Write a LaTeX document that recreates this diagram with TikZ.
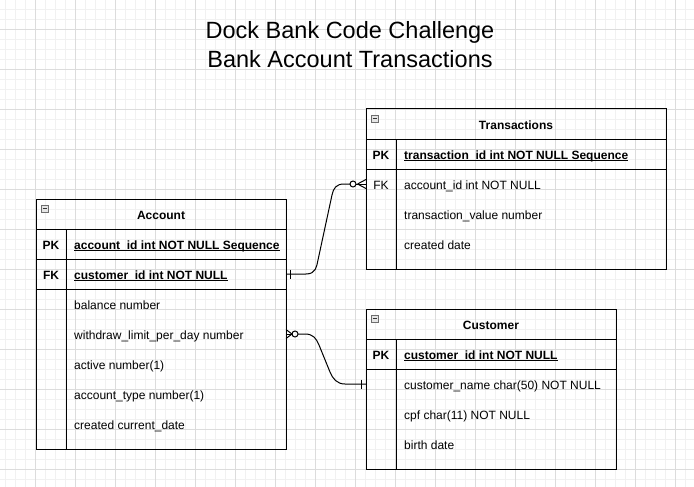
\documentclass[tikz,border=0pt]{standalone}
\usepackage{fontspec}
\setmainfont{Liberation Sans}
\definecolor{gridminor}{HTML}{F1F1F1}
\definecolor{gridmajor}{HTML}{DCDCDC}
\definecolor{iconfill}{HTML}{E6E6E6}
\definecolor{icondraw}{HTML}{6E6E6E}
\tikzset{
  gminor/.style={draw=gridminor, line width=0.8pt},
  gmajor/.style={draw=gridmajor, line width=0.8pt},
  tblbox/.style={draw=black, line width=1pt, rectangle, anchor=north west, inner sep=0pt, outer sep=0pt},
  tline/.style={draw=black, line width=1pt},
  icon/.style={fill=iconfill, draw=icondraw, line width=0.6pt},
  iconbar/.style={draw=black!80, line width=1pt},
  ttl/.style={font=\bfseries\fontsize{12}{14}\selectfont, anchor=base, inner sep=0pt},
  keylbl/.style={font=\bfseries\fontsize{12}{14}\selectfont, anchor=base, inner sep=0pt},
  keyplain/.style={font=\fontsize{12}{14}\selectfont, anchor=base, inner sep=0pt},
  fld/.style={font=\fontsize{12}{14}\selectfont, anchor=base west, inner sep=0pt},
  fldb/.style={font=\bfseries\fontsize{12}{14}\selectfont, anchor=base west, inner sep=0pt},
  uline/.style={draw=black, line width=0.9pt},
  conn/.style={draw=black, line width=1pt},
  bigtitle/.style={font=\fontsize{23.5}{28}\selectfont, anchor=base, inner sep=0pt},
}
\begin{document}
\begin{tikzpicture}[x=1pt,y=-1pt]
\useasboundingbox (0,0) rectangle (694,487);
\fill[white] (0,0) rectangle (694,487);
% grid
\foreach \x in {5,15,...,685} \draw[gminor] (\x,0) -- (\x,487);
\foreach \y in {9,19,...,479} \draw[gminor] (0,\y) -- (694,\y);
\foreach \x in {35,75,...,675} \draw[gmajor] (\x,0) -- (\x,487);
\foreach \y in {29,69,...,469} \draw[gmajor] (0,\y) -- (694,\y);

% title
\node[bigtitle] (t1) at (350,39) {Dock Bank Code Challenge};
\node[bigtitle] (t2) at (350,67) {Bank Account Transactions};

% ---------- Account ----------
\node[tblbox, minimum width=250pt, minimum height=250pt] (account) at (36,199) {};
\draw[tline] (36,229) -- (286,229) (36,259) -- (286,259) (36,289) -- (286,289) (66,229) -- (66,449);
\draw[icon] (41,205) rectangle (48,212);
\draw[iconbar] (42.5,208.5) -- (46.5,208.5);
\node[ttl] (acct) at (161,219) {Account};
\node[keylbl] (apk) at (51,249) {PK};
\node[fldb] (apkf) at (74,249) {account\_id int NOT NULL Sequence};
\draw[uline] ([yshift=-1.6pt]apkf.base west) -- ([yshift=-1.6pt]apkf.base east);
\node[keylbl] (afk) at (51,279) {FK};
\node[fldb] (afkf) at (74,279) {customer\_id int NOT NULL};
\draw[uline] ([yshift=-1.6pt]afkf.base west) -- ([yshift=-1.6pt]afkf.base east);
\node[fld] (a1) at (74,309) {balance number};
\node[fld] (a2) at (74,339) {withdraw\_limit\_per\_day number};
\node[fld] (a3) at (74,369) {active number(1)};
\node[fld] (a4) at (74,399) {account\_type number(1)};
\node[fld] (a5) at (74,429) {created current\_date};

% ---------- Transactions ----------
\node[tblbox, minimum width=300pt, minimum height=160pt] (trans) at (366,109) {};
\draw[tline] (366,139) -- (666,139) (366,169) -- (666,169) (396,139) -- (396,269);
\draw[icon] (371,115) rectangle (378,122);
\draw[iconbar] (372.5,118.5) -- (376.5,118.5);
\node[ttl] (trt) at (516,129) {Transactions};
\node[keylbl] (tpk) at (381,159) {PK};
\node[fldb] (tpkf) at (404,159) {transaction\_id int NOT NULL Sequence};
\draw[uline] ([yshift=-1.6pt]tpkf.base west) -- ([yshift=-1.6pt]tpkf.base east);
\node[keyplain] (tfk) at (381,189) {FK};
\node[fld] (t1f) at (404,189) {account\_id int NOT NULL};
\node[fld] (t2f) at (404,219) {transaction\_value number};
\node[fld] (t3f) at (404,249) {created date};

% ---------- Customer ----------
\node[tblbox, minimum width=250pt, minimum height=160pt] (cust) at (366,309) {};
\draw[tline] (366,339) -- (616,339) (366,369) -- (616,369) (396,339) -- (396,469);
\draw[icon] (371,315) rectangle (378,322);
\draw[iconbar] (372.5,318.5) -- (376.5,318.5);
\node[ttl] (cut) at (491,329) {Customer};
\node[keylbl] (cpk) at (381,359) {PK};
\node[fldb] (cpkf) at (404,359) {customer\_id int NOT NULL};
\draw[uline] ([yshift=-1.6pt]cpkf.base west) -- ([yshift=-1.6pt]cpkf.base east);
\node[fld] (c1) at (404,389) {customer\_name char(50) NOT NULL};
\node[fld] (c2) at (404,419) {cpf char(11) NOT NULL};
\node[fld] (c3) at (404,449) {birth date};

% ---------- connector anchors ----------
\coordinate (accFK) at (286,274);
\coordinate (trFK) at (366,184);
\coordinate (accW) at (286,334);
\coordinate (cuPK) at (366,384);

% connector 1: Account.customer... row -> Transactions.account_id
\draw[conn] (accFK) -- (306,274) .. controls (316,274) and (316.6,266.5) .. (318,260)
  -- (332,195) .. controls (333.4,188.5) and (336,184) .. (344,184) -- (350,184);
\draw[conn] (290,269.5) -- (290,278.5);
\draw[conn] (353,184) circle (3);
\draw[conn] (356,184) -- (trFK);
\draw[conn] (357.5,184) -- (366,179.5) (357.5,184) -- (366,188.5);

% connector 2: Account.withdraw row -> Customer
\draw[conn] (accW) -- (292,334);
\draw[conn] (286,329.5) -- (292,334) -- (286,338.5);
\draw[conn] (295,334) circle (3);
\draw[conn] (298,334) -- (305,334) .. controls (313,334) and (316.25,338.25) .. (319,345)
  -- (330,372) .. controls (332.75,378.75) and (337,384) .. (345,384) -- (cuPK);
\draw[conn] (361.5,379.5) -- (361.5,388.5);
\end{tikzpicture}
\end{document}
